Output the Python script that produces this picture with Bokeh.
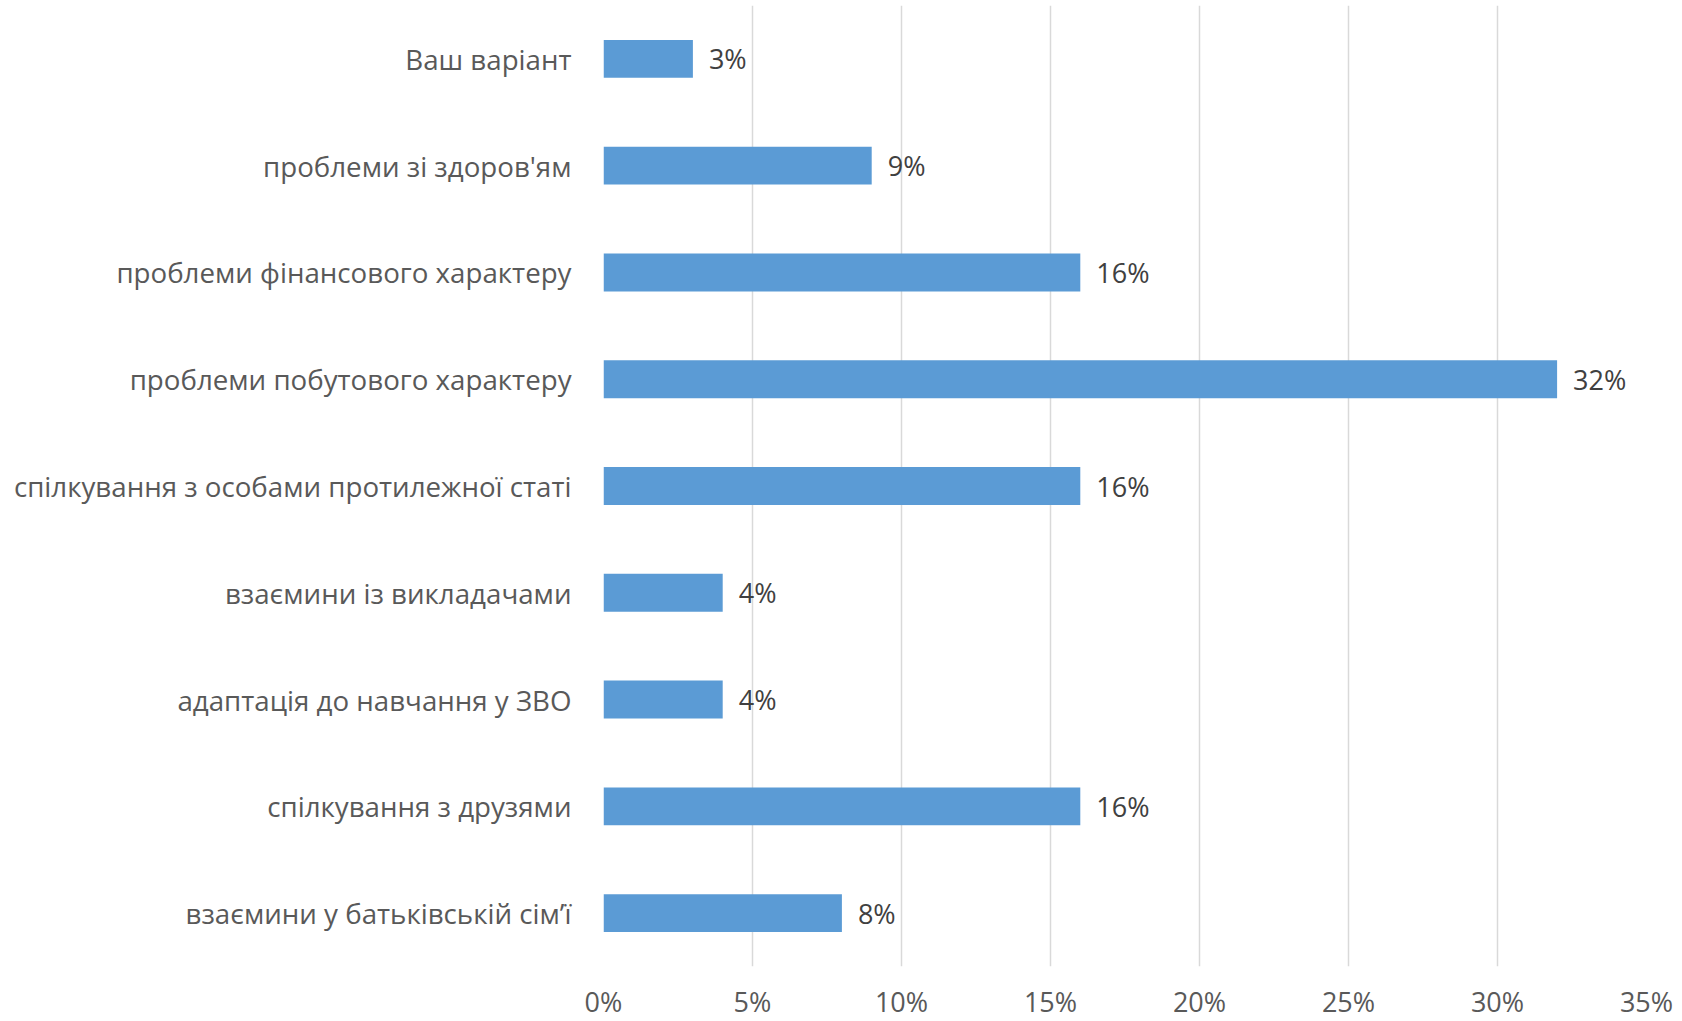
from bokeh.plotting import figure
from bokeh.models import ColumnDataSource, FixedTicker, NumeralTickFormatter
from bokeh.core.properties import value
from bokeh.embed import file_html
from bokeh.resources import INLINE

categories = [
    "взаємини у батьківській сім’ї",
    "спілкування з друзями",
    "адаптація до навчання у ЗВО",
    "взаємини із викладачами",
    "спілкування з особами протилежної статі",
    "проблеми побутового характеру",
    "проблеми фінансового характеру",
    "проблеми зі здоров'ям",
    "Ваш варіант",
]
values = [0.08, 0.16, 0.04, 0.04, 0.16, 0.32, 0.16, 0.09, 0.03]
x_ticks = [0, 0.05, 0.10, 0.15, 0.20, 0.25, 0.30, 0.35]

FONT = "Open Sans"
positions = list(range(1, len(categories) + 1))
labels = [f"{round(v * 100)}%" for v in values]

src = ColumnDataSource(dict(y=positions, v=values, lab=labels))

p = figure(
    frame_width=1043, frame_height=961,
    x_range=(0, 0.35), y_range=(0.5, 9.5),
    output_backend="svg", toolbar_location=None,
    min_border_left=603, min_border_right=36, min_border_top=5, min_border_bottom=40,
)
p.outline_line_color = None
p.background_fill_color = "white"
p.border_fill_color = "white"

p.hbar(y="y", left=0, right="v", height=0.355, source=src,
       fill_color="#5B9BD5", line_color=None)
p.text(x="v", y="y", text="lab", source=src, x_offset=16,
       text_align="left", text_baseline="middle",
       text_font=value(FONT), text_font_size="27px", text_color="#404040")

p.xaxis.ticker = FixedTicker(ticks=x_ticks)
p.xaxis.formatter = NumeralTickFormatter(format="0%")
p.xaxis.axis_line_color = None
p.xaxis.major_tick_line_color = None
p.xaxis.minor_tick_line_color = None
p.xaxis.major_label_text_font = FONT
p.xaxis.major_label_text_font_size = "27px"
p.xaxis.major_label_text_color = "#595959"
p.xaxis.major_label_standoff = 10

p.yaxis.ticker = FixedTicker(ticks=positions)
p.yaxis.major_label_overrides = {pos: c for pos, c in zip(positions, categories)}
p.yaxis.axis_line_color = None
p.yaxis.major_tick_line_color = None
p.yaxis.minor_tick_line_color = None
p.yaxis.major_label_text_font = FONT
p.yaxis.major_label_text_font_size = "27.7px"
p.yaxis.major_label_text_color = "#595959"
p.yaxis.major_label_standoff = 26

p.xgrid.ticker = FixedTicker(ticks=x_ticks)
p.xgrid.grid_line_color = "#D9D9D9"
p.xgrid.grid_line_width = 1.5
p.ygrid.grid_line_color = None

open("out.html", "w").write(file_html(p, INLINE))
